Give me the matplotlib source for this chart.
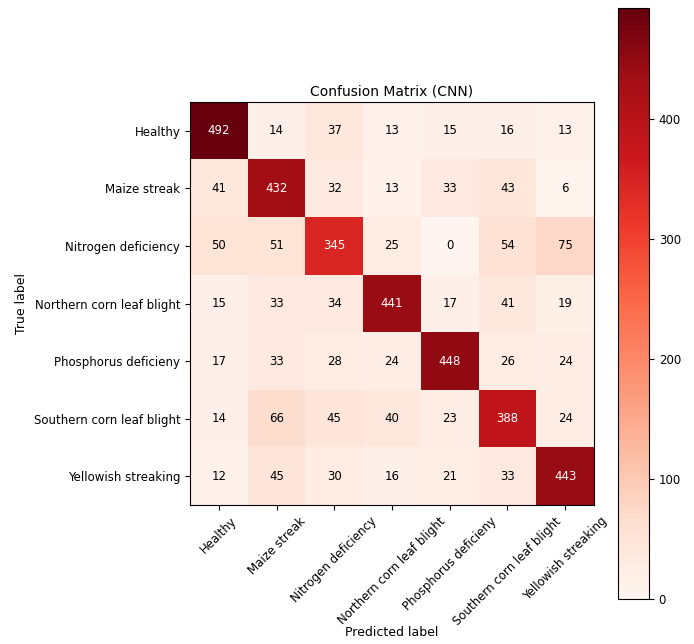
import numpy as np
import matplotlib
matplotlib.use("Agg")
import matplotlib.pyplot as plt

classes = [
    "Healthy",
    "Maize streak",
    "Nitrogen deficiency",
    "Northern corn leaf blight",
    "Phosphorus deficieny",
    "Southern corn leaf blight",
    "Yellowish streaking",
]

row_healthy = [492, 14, 37, 13, 15, 16, 13]
row_maize = [41, 432, 32, 13, 33, 43, 6]
row_nitrogen = [50, 51, 345, 25, 0, 54, 75]
row_northern = [15, 33, 34, 441, 17, 41, 19]
row_phosphorus = [17, 33, 28, 24, 448, 26, 24]
row_southern = [14, 66, 45, 40, 23, 388, 24]
row_yellowish = [12, 45, 30, 16, 21, 33, 443]

cm = np.array([row_healthy, row_maize, row_nitrogen, row_northern,
               row_phosphorus, row_southern, row_yellowish])

W, H = 694, 644
fig = plt.figure(figsize=(W / 100, H / 100), dpi=100)

def box(x0, y0, x1, y1):
    return [x0 / W, 1 - y1 / H, (x1 - x0) / W, (y1 - y0) / H]

ax = fig.add_axes(box(190, 102, 594, 505))
cax = fig.add_axes(box(618, 8, 649, 599))

fs = 8.5
im = ax.imshow(cm, interpolation="nearest", cmap=plt.cm.Reds, aspect="auto")
ax.set_title("Confusion Matrix (CNN)", fontsize=10, pad=5)
cb = fig.colorbar(im, cax=cax)
cb.ax.tick_params(labelsize=fs)

ticks = np.arange(len(classes))
ax.set_xticks(ticks)
ax.set_xticklabels(classes, rotation=45, fontsize=fs)
ax.set_yticks(ticks)
ax.set_yticklabels(classes, fontsize=fs)

thresh = cm.max() / 2.0
for i in range(cm.shape[0]):
    for j in range(cm.shape[1]):
        ax.text(j, i, format(cm[i, j], "d"), ha="center", va="center",
                fontsize=fs,
                color="white" if cm[i, j] > thresh else "black")

ax.set_ylabel("True label", fontsize=9)
ax.set_xlabel("Predicted label", fontsize=9, labelpad=0)
ax.xaxis.set_label_coords(0.5, -(632 - 505) / (505 - 102))
ax.xaxis.label.set_va("center")

fig.savefig("out.png", dpi=100)
